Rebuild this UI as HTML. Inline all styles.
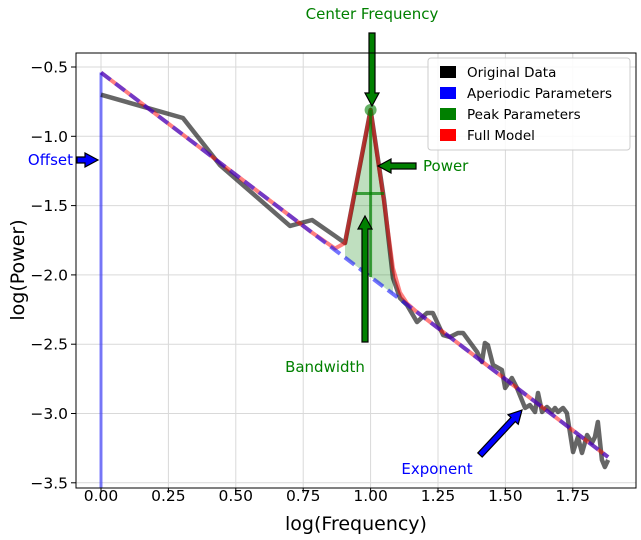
<!DOCTYPE html>
<html><head><meta charset="utf-8"><style>
body{margin:0;background:#fff}
svg{display:block;font-family:"DejaVu Sans","Liberation Sans",sans-serif}
</style></head><body>
<svg id="c" width="641" height="540" xmlns="http://www.w3.org/2000/svg"></svg>
<script>
const freqs=[0,0.304,0.441,0.701,0.783,0.868,0.905,1.0,1.05,1.083,1.109,1.135,1.172,1.209,1.231,1.269,1.294,1.324,1.343,1.395,1.413,1.424,1.435,1.454,1.487,1.499,1.524,1.543,1.573,1.591,1.61,1.621,1.636,1.654,1.673,1.684,1.695,1.714,1.728,1.751,1.769,1.784,1.803,1.821,1.832,1.843,1.858,1.869,1.881];
const power=[-0.70,-0.868,-1.207,-1.647,-1.604,-1.719,-1.77,-0.81,-1.46,-2.022,-2.167,-2.217,-2.34,-2.275,-2.275,-2.434,-2.448,-2.419,-2.419,-2.556,-2.628,-2.491,-2.506,-2.65,-2.686,-2.816,-2.744,-2.816,-2.96,-2.939,-2.989,-2.852,-2.989,-2.953,-2.989,-2.96,-2.989,-2.96,-2.996,-3.278,-3.17,-3.285,-3.155,-3.213,-3.17,-3.061,-3.335,-3.386,-3.335];
const aperiodicParams=[-0.54,1.475]; // offset, exponent
const peakParams=[1.0,1.205,0.043]; // center, height, sd
const xTicks=[0,0.25,0.5,0.75,1.0,1.25,1.5,1.75];
const xTickLabels=["0.00","0.25","0.50","0.75","1.00","1.25","1.50","1.75"];
const yTicks=[-0.5,-1.0,-1.5,-2.0,-2.5,-3.0,-3.5];
const yTickLabels=["−0.5","−1.0","−1.5","−2.0","−2.5","−3.0","−3.5"];

const NS="http://www.w3.org/2000/svg";
const svg=document.getElementById('c');
const L=76,R=636,T=53,B=488;
const X=v=>101+v*269.6;
const Y=v=>67+(-0.5-v)*138.6;
function mk(tag,at,parent){const e=document.createElementNS(NS,tag);for(const k in at)e.setAttribute(k,at[k]);(parent||svg).appendChild(e);return e;}
const ap=f=>aperiodicParams[0]-aperiodicParams[1]*f;
const gauss=f=>peakParams[1]*Math.exp(-Math.pow(f-peakParams[0],2)/(2*peakParams[2]*peakParams[2]));
const model=freqs.map(f=>ap(f)+gauss(f));

xTicks.forEach((t,i)=>{
 const g=mk('line',{x1:X(t),x2:X(t),y1:T,y2:B,stroke:'#d9d9d9','stroke-width':1});
 
 
 const tk=mk('line',{x1:X(t),x2:X(t),y1:B,y2:B+5,stroke:'#000'});
 
 
 const tx=mk('text',{x:X(t),y:B+13,'text-anchor':'middle','font-size':15.5});
 tx.textContent=xTickLabels[i];
 
 
});
yTicks.forEach((t,i)=>{
 const g=mk('line',{x1:L,x2:R,y1:Y(t),y2:Y(t),stroke:'#d9d9d9','stroke-width':1});
 
 
 const tk=mk('line',{x1:L-5,x2:L,y1:Y(t),y2:Y(t),stroke:'#000'});
 
 
 const tx=mk('text',{x:L-8,y:Y(t)+5.5,'text-anchor':'end','font-size':15.5});
 tx.textContent=yTickLabels[i];
 
 
});

const idx=freqs.map((f,i)=>i).filter(i=>freqs[i]>=0.9&&freqs[i]<=1.09);
let sp=idx.map(i=>X(freqs[i])+','+Y(model[i])).concat(idx.slice().reverse().map(i=>X(freqs[i])+','+Y(ap(freqs[i])))).join(' ');
const shade=mk('polygon',{points:sp,fill:'green','fill-opacity':0.25});



const off=mk('line',{x1:X(0),x2:X(0),y1:Y(aperiodicParams[0]),y2:B,stroke:'blue','stroke-opacity':0.5,'stroke-width':3});



const dl=mk('polyline',{points:freqs.map((f,i)=>X(f)+','+Y(power[i])).join(' '),fill:'none',stroke:'#000','stroke-opacity':0.6,'stroke-width':4.5,'stroke-linejoin':'round'});


const ml=mk('polyline',{points:freqs.map((f,i)=>X(f)+','+Y(model[i])).join(' '),fill:'none',stroke:'red','stroke-opacity':0.5,'stroke-width':4,'stroke-linejoin':'round'});


const al=mk('polyline',{points:freqs.map(f=>X(f)+','+Y(ap(f))).join(' '),fill:'none',stroke:'blue','stroke-opacity':0.55,'stroke-width':4,'stroke-dasharray':'12,6'});



const pk=Y(ap(peakParams[0])+peakParams[1]);
const vl=mk('line',{x1:X(peakParams[0]),x2:X(peakParams[0]),y1:pk,y2:Y(ap(peakParams[0])),stroke:'green','stroke-opacity':0.7,'stroke-width':3});


const hh=Y(ap(peakParams[0])+peakParams[1]/2);
const bw=mk('line',{x1:X(peakParams[0]-0.057),x2:X(peakParams[0]+0.05),y1:hh,y2:hh,stroke:'green','stroke-opacity':0.7,'stroke-width':3});


const dot=mk('circle',{cx:X(peakParams[0]),cy:pk,r:6,fill:'green','fill-opacity':0.6});



function arrow(x1,y1,x2,y2,col,name){
 const dx=x2-x1,dy=y2-y1,len=Math.hypot(dx,dy),ang=Math.atan2(dy,dx)*180/Math.PI;
 const hl=13,bw=3,hw=7;
 const p=`0,${-bw} ${len-hl},${-bw} ${len-hl},${-hw} ${len},0 ${len-hl},${hw} ${len-hl},${bw} 0,${bw}`;
 const a=mk('polygon',{points:p,fill:col,stroke:'#000','stroke-width':1.2,transform:`translate(${x1},${y1}) rotate(${ang})`});
 
 
}
arrow(372,33,372,106,'green','center-frequency-arrow');
arrow(416,166,378,166,'green','power-arrow');
arrow(365,342,365,216,'green','bandwidth-arrow');
arrow(77,160,98,160,'blue','offset-arrow');
arrow(480,455,522,410,'blue','exponent-arrow');

function label(x,y,t,col,anchor,name){const e=mk('text',{x:x,y:y,fill:col,'font-size':15,'text-anchor':anchor});e.textContent=t;}
label(372,19,'Center Frequency','green','middle','center-frequency-label');
label(423,171,'Power','green','start','power-label');
label(325,372,'Bandwidth','green','middle','bandwidth-label');
label(73,165,'Offset','blue','end','offset-label');
label(437,474,'Exponent','blue','middle','exponent-label');

const fr=mk('rect',{x:L,y:T,width:R-L,height:B-T,fill:'none',stroke:'#000','stroke-width':1});



const lg=mk('g',{});


mk('rect',{x:428,y:58,width:202,height:92,rx:3,fill:'#fff','fill-opacity':0.85,stroke:'#ccc'},lg);
const legNames=['Original Data','Aperiodic Parameters','Peak Parameters','Full Model'];
const legCols=['black','blue','green','red'];
legNames.forEach((n,i)=>{
 const y=72+i*21;
 const r=mk('rect',{x:440,y:y-6,width:16,height:12,fill:legCols[i]},lg);
 
 
 const t=mk('text',{x:467,y:y+5,'font-size':13.5},lg);t.textContent=n;
 
 
});

const xt=mk('text',{x:356,y:530,'text-anchor':'middle','font-size':19});xt.textContent='log(Frequency)';


const yt=mk('text',{x:0,y:0,'text-anchor':'middle','font-size':19,transform:'translate(24,270) rotate(-90)'});yt.textContent='log(Power)';


</script>
</body></html>
